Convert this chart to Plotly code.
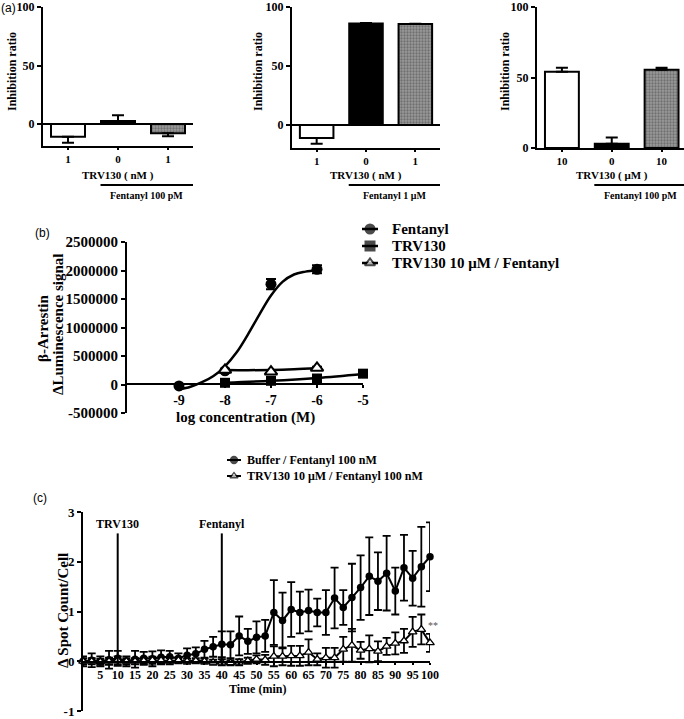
import plotly.graph_objects as go

W, H = 684, 719
SERIF = "Liberation Serif"
SANS = "Liberation Sans"

# ---------------- data ----------------
# Panel (a): inhibition ratio bars
a_positions = [0, 1, 2]
a1_ticklabels = ["1", "0", "1"]
a1_values = [-11, 2.5, -8]
a1_errors = [5, 5, 2.5]
a2_ticklabels = ["1", "0", "1"]
a2_values = [-11, 86, 85.5]
a2_errors = [5, 0.4, 0.4]
a3_ticklabels = ["10", "0", "10"]
a3_values = [54, 3, 55.5]
a3_errors = [3, 4.5, 1.5]
a_xtitles = ["TRV130 ( nM )", "TRV130 ( nM )", "TRV130 ( μM )"]
a_fentanyl_labels = ["Fentanyl 100 pM", "Fentanyl 1 μM", "Fentanyl 100 pM"]

# Panel (b): beta-arrestin
b_logc_fent = [-9, -8, -7, -6]
b_fent = [-25000, 240000, 1760000, 2020000]
b_fent_err = [15000, 30000, 90000, 70000]
b_logc_trv = [-8, -7, -6, -5]
b_trv = [30000, 65000, 105000, 190000]
b_trv_err = [10000, 10000, 15000, 15000]
b_logc_combo = [-8, -7, -6]
b_combo = [255000, 225000, 290000]
b_combo_err = [20000, 20000, 20000]
# fitted curves
b_fent_fit_x = [-9, -8.75, -8.5, -8.25, -8, -7.75, -7.5, -7.25, -7, -6.75, -6.5, -6.25, -6]
b_fent_fit_y = [-90000, -40000, 40000, 150000, 320000, 560000, 880000, 1230000, 1560000, 1800000, 1930000, 1980000, 2010000]
b_trv_fit_x = [-8, -7, -6, -5]
b_trv_fit_y = [30000, 65000, 115000, 185000]
b_combo_fit_x = [-8, -7.5, -7, -6.5, -6]
b_combo_fit_y = [255000, 252000, 255000, 268000, 290000]
b_xticks = [-9, -8, -7, -6, -5]
b_yticks = [-500000, 0, 500000, 1000000, 1500000, 2000000, 2500000]

# Panel (c): spot count time course
c_time = [0, 2.5, 5, 7.5, 10, 12.5, 15, 17.5, 20, 22.5, 25, 27.5, 30, 32.5, 35, 37.5,
          40, 42.5, 45, 47.5, 50, 52.5, 55, 57.5, 60, 62.5, 65, 67.5, 70, 72.5, 75,
          77.5, 80, 82.5, 85, 87.5, 90, 92.5, 95, 97.5, 100]
c_buffer = [0.0, 0.02, 0.0, 0.03, 0.06, 0.0, 0.04, 0.06, 0.05, 0.08, 0.09, 0.06, 0.12,
            0.15, 0.24, 0.29, 0.34, 0.33, 0.51, 0.40, 0.48, 0.51, 0.98, 0.82, 1.04, 0.98,
            1.02, 0.98, 0.98, 1.27, 1.08, 1.28, 1.48, 1.71, 1.61, 1.77, 1.41, 1.88, 1.67,
            1.90, 2.10]
c_buffer_err = [0.10, 0.14, 0.10, 0.18, 0.15, 0.10, 0.17, 0.13, 0.15, 0.14, 0.12, 0.10,
                0.14, 0.13, 0.17, 0.20, 0.26, 0.27, 0.39, 0.25, 0.32, 0.32, 0.65, 0.56,
                0.55, 0.42, 0.42, 0.28, 0.45, 0.61, 0.35, 0.68, 0.65, 0.78, 0.58, 0.75,
                0.47, 0.66, 0.55, 0.80, 0.69]
c_trv = [0.0, 0.0, -0.01, 0.0, 0.02, 0.0, 0.0, 0.01, 0.02, 0.02, 0.0, 0.02, 0.0, 0.01,
         0.0, -0.02, -0.02, -0.03, -0.02, 0.01, 0.04, 0.03, 0.10, 0.10, 0.11, 0.11, 0.18,
         0.04, 0.07, 0.07, 0.24, 0.32, 0.22, 0.25, 0.20, 0.30, 0.36, 0.41, 0.59, 0.64, 0.37]
c_trv_err = [0.06, 0.06, 0.06, 0.07, 0.08, 0.06, 0.06, 0.06, 0.07, 0.06, 0.06, 0.05,
             0.05, 0.05, 0.05, 0.05, 0.06, 0.05, 0.06, 0.06, 0.08, 0.10, 0.20, 0.18,
             0.20, 0.20, 0.26, 0.12, 0.20, 0.20, 0.25, 0.33, 0.17, 0.27, 0.20, 0.17,
             0.22, 0.24, 0.30, 0.30, 0.18]
c_event_times = [10, 40]
c_event_labels = ["TRV130", "Fentanyl"]
c_event_top = 2.57
c_xticks = [5, 10, 15, 20, 25, 30, 35, 40, 45, 50, 55, 60, 65, 70, 75, 80, 85, 90, 95, 100]
c_yticks = [-1, 0, 1, 2, 3]

# ---------------- helpers ----------------
def px(x):
    return x / W

def py(y):
    return 1 - y / H

fig = go.Figure()

def font(size, family=SERIF, bold=True, color="black"):
    d = dict(family=family, size=size, color=color)
    if bold:
        d["weight"] = "bold"
    return d

def ann(x, y, text, size, xref="paper", yref="paper", angle=0, xanchor="center",
        family=SERIF, bold=True, color="black", xshift=0):
    if xref == "paper":
        x = px(x)
    if yref == "paper":
        y = py(y)
    fig.add_annotation(xref=xref, yref=yref, x=x, y=y, text=text, showarrow=False,
                       textangle=angle, xanchor=xanchor, yanchor="middle", xshift=xshift,
                       borderpad=0, font=font(size, family, bold, color))

BAR_FILLS = ["white", "black", "#9a9a9a"]
BAR_PATTERNS = ["", "", "."]

axis_common = dict(showline=True, linecolor="black", linewidth=2, ticks="outside",
                   tickcolor="black", tickwidth=2, showgrid=False, zeroline=False,
                   mirror=False, automargin=False)

panels_a = [
    (1, a1_values, a1_errors, a1_ticklabels, (43, 193), (7, 146), [-0.5, 2.5], [-18.8, 100]),
    (2, a2_values, a2_errors, a2_ticklabels, (292, 440), (7, 148), [-0.5, 2.5], [-19.5, 100]),
    (3, a3_values, a3_errors, a3_ticklabels, (537, 684), (7, 148), [-0.5, 2.45], [0, 100]),
]

for i, vals, errs, tl, xd, yd, xr, yr in panels_a:
    up = [e if v >= 0 else 0 for v, e in zip(vals, errs)]
    down = [0 if v >= 0 else e for v, e in zip(vals, errs)]
    sx = "" if i == 1 else str(i)
    fig.add_trace(go.Bar(
        x=a_positions, y=vals, width=0.68,
        marker=dict(color=BAR_FILLS, line=dict(color="black", width=2),
                    pattern=dict(shape=BAR_PATTERNS, fgcolor="#404040", size=3, solidity=0.45)),
        error_y=dict(type="data", symmetric=False, array=up, arrayminus=down,
                     color="black", thickness=2, width=6),
        xaxis="x" + sx, yaxis="y" + sx, showlegend=False, cliponaxis=False))
    fig.update_layout(**{
        "xaxis" + sx: dict(axis_common, domain=[px(xd[0]), px(xd[1])], range=xr,
                           anchor="y" + sx, tickvals=a_positions, ticktext=tl, ticklen=2,
                           tickfont=font(11)),
        "yaxis" + sx: dict(axis_common, domain=[py(yd[1]), py(yd[0])], range=yr,
                           anchor="x" + sx, tickvals=[0, 50, 100], ticklen=4,
                           zeroline=(yr[0] < 0), zerolinecolor="black", zerolinewidth=2,
                           tickfont=font(12)),
    })
    # underline + Fentanyl label
    fig.add_shape(type="line", xref="x" + sx, yref="paper", x0=0.65, x1=2.5,
                  y0=py(185), y1=py(185), line=dict(color="black", width=2))
    ann(1.57, 195, a_fentanyl_labels[i - 1], 10, xref="x" + sx)
    ann(1.0, 175, a_xtitles[i - 1], 11, xref="x" + sx)

for xc in (12, 258, 505):
    ann(xc, 72, "Inhibition ratio", 12, angle=-90)

# ---------------- panel (b) ----------------
for fx, fy in ((b_fent_fit_x, b_fent_fit_y), (b_trv_fit_x, b_trv_fit_y), (b_combo_fit_x, b_combo_fit_y)):
    fig.add_trace(go.Scatter(x=fx, y=fy, mode="lines", line=dict(color="black", width=2.5, shape="spline"),
                             xaxis="x4", yaxis="y4", showlegend=False))
fig.add_trace(go.Scatter(x=b_logc_fent, y=b_fent, mode="markers",
                         marker=dict(symbol="circle", size=11, color="black"),
                         error_y=dict(type="data", array=b_fent_err, color="black", thickness=2, width=5),
                         xaxis="x4", yaxis="y4", showlegend=False, cliponaxis=False))
fig.add_trace(go.Scatter(x=b_logc_trv, y=b_trv, mode="markers",
                         marker=dict(symbol="square", size=10, color="black"),
                         error_y=dict(type="data", array=b_trv_err, color="black", thickness=2, width=5),
                         xaxis="x4", yaxis="y4", showlegend=False, cliponaxis=False))
fig.add_trace(go.Scatter(x=b_logc_combo, y=b_combo, mode="markers",
                         marker=dict(symbol="triangle-up", size=11, color="white", line=dict(color="black", width=2)),
                         error_y=dict(type="data", array=b_combo_err, color="black", thickness=2, width=5),
                         xaxis="x4", yaxis="y4", showlegend=False, cliponaxis=False))

fig.update_layout(
    xaxis4=dict(axis_common, domain=[px(127), px(363)], range=[-10.13, -5], anchor="free",
                position=py(384), tickvals=b_xticks, ticktext=[str(v) for v in b_xticks], ticklen=3,
                tickfont=font(14)),
    yaxis4=dict(axis_common, domain=[py(413), py(242)], range=[-500000, 2500000], anchor="x4",
                tickvals=b_yticks, ticktext=[str(v) for v in b_yticks], ticklen=4,
                tickfont=font(15)),
)
ann(245, 417, "log concentration (M)", 15)
ann(43, 329, "β-Arrestin", 15, angle=-90)
ann(58, 324, "ΔLuminescence signal", 15, angle=-90)

# ---------------- panel (c) ----------------
fig.add_trace(go.Scatter(x=c_time, y=c_buffer, mode="lines+markers",
                         line=dict(color="black", width=2),
                         marker=dict(symbol="circle", size=7.5, color="black"),
                         error_y=dict(type="data", array=c_buffer_err, color="black", thickness=1.8, width=4),
                         xaxis="x5", yaxis="y5", showlegend=False, cliponaxis=False))
fig.add_trace(go.Scatter(x=c_time, y=c_trv, mode="lines+markers",
                         line=dict(color="black", width=2),
                         marker=dict(symbol="triangle-up", size=7.5, color="white", line=dict(color="black", width=1.3)),
                         error_y=dict(type="data", array=c_trv_err, color="black", thickness=1.8, width=4),
                         xaxis="x5", yaxis="y5", showlegend=False, cliponaxis=False))
fig.update_layout(
    xaxis5=dict(axis_common, domain=[px(83), px(430)], range=[0, 100], anchor="free",
                position=py(662), tickvals=c_xticks, ticklen=2,
                tickfont=font(12)),
    yaxis5=dict(axis_common, domain=[py(711), py(512)], range=[-1, 3], anchor="x5",
                tickvals=c_yticks, ticktext=[str(v) for v in c_yticks], ticklen=4,
                tickfont=font(13)),
)
for t, lab in zip(c_event_times, c_event_labels):
    fig.add_shape(type="line", xref="x5", yref="y5", x0=t, x1=t, y0=0, y1=c_event_top,
                  line=dict(color="black", width=2))
    ann(t, c_event_top + 0.19, lab, 12, xref="x5", yref="y5")
ann(c_time[-1], c_trv[-1] + c_trv_err[-1] + 0.17, "**", 10, xref="x5", yref="y5",
    xanchor="left", xshift=-3, bold=False, color="#555555")
ann(257, 689, "Time (min)", 12)
ann(63, 611, "Δ Spot Count/Cell", 15, angle=-90)

# ---------------- legends (drawn as keys on an overlay axis) ----------------
legend_b = [("Fentanyl", "circle", "black", 229), ("TRV130", "square", "black", 246),
            ("TRV130 10 μM / Fentanyl", "triangle-up", "white", 263)]
legend_c = [("Buffer / Fentanyl 100 nM", "circle", "black", 460),
            ("TRV130 10 μM / Fentanyl 100 nM", "triangle-up", "white", 476)]
for name, sym, col, yy in legend_b:
    fig.add_trace(go.Scatter(x=[362, 370, 378], y=[yy, yy, yy], mode="lines+markers",
                             line=dict(color="black", width=2.5),
                             marker=dict(symbol=sym, size=[0, 9, 0], color=col, line=dict(color="black", width=2)),
                             xaxis="x6", yaxis="y6", showlegend=False, hoverinfo="skip"))
    ann(391, yy, name, 15, xanchor="left")
for name, sym, col, yy in legend_c:
    fig.add_trace(go.Scatter(x=[227, 234, 241], y=[yy, yy, yy], mode="lines+markers",
                             line=dict(color="black", width=2),
                             marker=dict(symbol=sym, size=[0, 7, 0], color=col, line=dict(color="black", width=1.3)),
                             xaxis="x6", yaxis="y6", showlegend=False, hoverinfo="skip"))
    ann(246, yy, name, 12, xanchor="left")

fig.update_layout(
    xaxis6=dict(domain=[0, 1], range=[0, W], visible=False, anchor="y6", fixedrange=True),
    yaxis6=dict(domain=[0, 1], range=[H, 0], visible=False, anchor="x6", fixedrange=True),
)

# panel letters
for lab, xx, yy in (("(a)", 8, 8), ("(b)", 42, 233), ("(c)", 40, 498)):
    ann(xx, yy, lab, 12, family=SANS, bold=False)

fig.update_layout(width=W, height=H, margin=dict(l=0, r=0, t=0, b=0, autoexpand=False),
                  paper_bgcolor="white", plot_bgcolor="rgba(0,0,0,0)", showlegend=False,
                  bargap=0.3, hovermode=False)

fig.write_html("out.html", config={"displayModeBar": False, "staticPlot": True},
               post_script="document.body.style.margin='0';document.body.style.overflow='hidden';")
